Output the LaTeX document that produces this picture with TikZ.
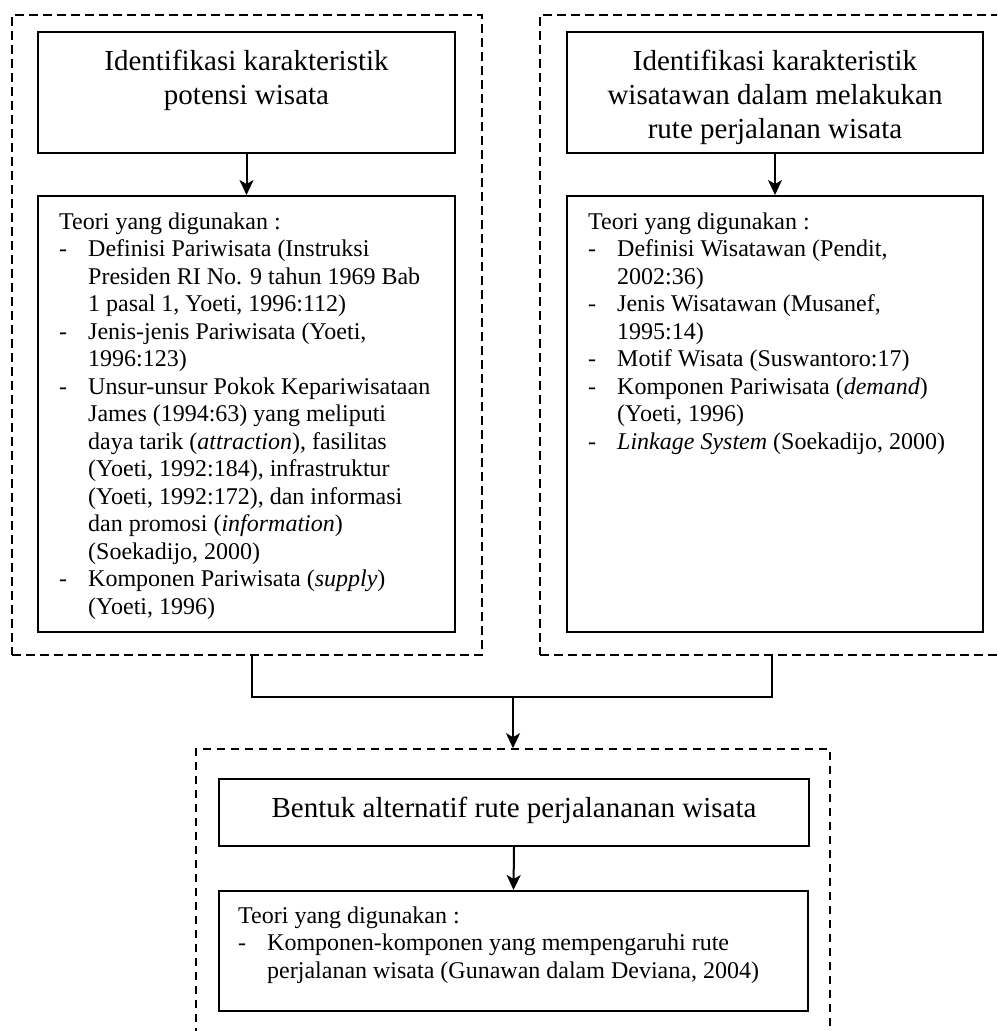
\documentclass[tikz,border=0pt]{standalone}
\usepackage{fontspec}
\setmainfont{Liberation Serif}
\usetikzlibrary{arrows.meta}
\tikzset{
  solidbox/.style={draw, rectangle, line width=2pt, inner sep=0pt},
  dashframe/.style={draw, rectangle, line width=2.2pt, dash pattern=on 9pt off 5pt, inner sep=0pt},
  dashframetwo/.style={draw, rectangle, line width=1.6pt, dash pattern=on 8pt off 6pt, inner sep=0pt},
  conn/.style={line width=2pt},
  arr/.style={conn, -{Stealth[length=15pt,width=14pt,inset=4pt]}},
  titletext/.style={inner sep=0pt, font=\fontsize{29}{34}\selectfont, anchor=base},
  bodytext/.style={inner sep=0pt, font=\fontsize{24}{27.5}\selectfont, anchor=base west},
}
\begin{document}
\begin{tikzpicture}[x=1pt, y=-1pt]
\useasboundingbox (0,0) rectangle (997,1031);
\clip (0,0) rectangle (997,1031);
% dashed frames
\node[dashframe, minimum width=470pt, minimum height=640pt] (ld) at (247,335) {};
\node[dashframe, minimum width=470pt, minimum height=640pt] (rd) at (775,335) {};
\node[dashframetwo, minimum width=634pt, minimum height=301pt] (bd) at (513,899.5) {};
% boxes
\node[solidbox, minimum width=417pt, minimum height=121pt] (lt) at (246.5,92.5) {};
\node[solidbox, minimum width=417pt, minimum height=436pt] (lb) at (246.5,414) {};
\node[solidbox, minimum width=416pt, minimum height=121pt] (rt) at (775,92.5) {};
\node[solidbox, minimum width=416pt, minimum height=436pt] (rb) at (775,414) {};
\node[solidbox, minimum width=590pt, minimum height=67pt] (bt) at (514,812.5) {};
\node[solidbox, minimum width=589pt, minimum height=120pt] (bb) at (513.5,951) {};
% texts
\node[titletext] (ltx) at (246.5,70.5) {\begin{tabular}[t]{@{}c@{}}Identifikasi karakteristik\\potensi wisata\end{tabular}};
\node[titletext] (rtx) at (775,70.5) {\begin{tabular}[t]{@{}c@{}}Identifikasi karakteristik\\wisatawan dalam melakukan\\rute perjalanan wisata\end{tabular}};
\node[titletext] (btx) at (514,817) {Bentuk alternatif rute perjalananan wisata};
\node[bodytext] (lbx) at (59,229) {\begin{tabular}[t]{@{}p{29pt}@{}l@{}}
\multicolumn{2}{@{}l@{}}{Teori yang digunakan :}\\
- & Definisi Pariwisata (Instruksi\\
  & Presiden RI No. 9 tahun 1969 Bab\\
  & 1 pasal 1, Yoeti, 1996:112)\\
- & Jenis-jenis Pariwisata (Yoeti,\\
  & 1996:123)\\
- & Unsur-unsur Pokok Kepariwisataan\\
  & James (1994:63) yang meliputi\\
  & daya tarik (\textit{attraction}), fasilitas\\
  & (Yoeti, 1992:184), infrastruktur\\
  & (Yoeti, 1992:172), dan informasi\\
  & dan promosi (\textit{information})\\
  & (Soekadijo, 2000)\\
- & Komponen Pariwisata (\textit{supply})\\
  & (Yoeti, 1996)
\end{tabular}};
\node[bodytext] (rbx) at (588,229) {\begin{tabular}[t]{@{}p{29pt}@{}l@{}}
\multicolumn{2}{@{}l@{}}{Teori yang digunakan :}\\
- & Definisi Wisatawan (Pendit,\\
  & 2002:36)\\
- & Jenis Wisatawan (Musanef,\\
  & 1995:14)\\
- & Motif Wisata (Suswantoro:17)\\
- & Komponen Pariwisata (\textit{demand})\\
  & (Yoeti, 1996)\\
- & \textit{Linkage System} (Soekadijo, 2000)
\end{tabular}};
\node[bodytext] (bbx) at (238,923) {\begin{tabular}[t]{@{}p{29pt}@{}l@{}}
\multicolumn{2}{@{}l@{}}{Teori yang digunakan :}\\
- & Komponen-komponen yang mempengaruhi rute\\
  & perjalanan wisata (Gunawan dalam Deviana, 2004)
\end{tabular}};
% connectors
\draw[arr] (lt.south) -- (lb.north);
\draw[arr] (rt.south) -- (rb.north);
\draw[arr] (bt.south) -- (bb.north);
\coordinate (c1) at (252,655);
\coordinate (c2) at (772,655);
\coordinate (j) at (513,697);
\draw[conn] (c1) |- (j) -| (c2);
\draw[arr] (j) -- (bd.north);
\end{tikzpicture}
\end{document}
